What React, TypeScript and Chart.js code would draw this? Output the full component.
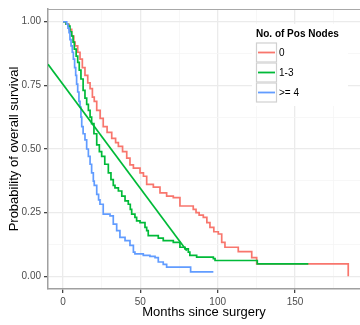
import React, { useEffect, useRef } from "react";
import { Chart, registerables } from "chart.js";

Chart.register(...registerables);

const FONT = "'Liberation Sans', Arial, Helvetica, sans-serif";

const seriesLabels = ["0", "1-3", ">= 4"];
const seriesColors = ["#F8766D", "#00BA38", "#619CFF"];
const legendTitle = "No. of Pos Nodes";
const xTitle = "Months since surgery";
const yTitle = "Probability of overall survival";

// Kaplan-Meier curves: time of each drop and survival after the drop
const redTimes = [0, 2, 4, 5.6, 7, 7.8, 9.5, 11, 12.5, 14.2, 16, 17.5, 19, 20.2, 21.8, 24, 26, 28.5, 31.5, 34, 35.8, 38.5, 41.2, 43.3, 45.5, 49.8, 52, 54.1, 58.4, 62.7, 67, 71.3, 75.6, 84.2, 86, 88, 90.7, 93, 95, 97.5, 100.4, 102.6, 104.7, 113.3, 122, 125.2, 184.4];
const redSurv = [1.0, 0.99, 0.97, 0.944, 0.92, 0.905, 0.88, 0.853, 0.82, 0.789, 0.76, 0.737, 0.704, 0.687, 0.652, 0.62, 0.588, 0.565, 0.542, 0.525, 0.51, 0.49, 0.464, 0.438, 0.425, 0.406, 0.393, 0.361, 0.35, 0.328, 0.315, 0.309, 0.276, 0.263, 0.25, 0.24, 0.231, 0.211, 0.192, 0.175, 0.166, 0.133, 0.114, 0.097, 0.073, 0.049, 0.0];

const greenTimes = [0, 2, 3.4, 4.5, 5.6, 6.5, 7.3, 8.5, 9.5, 10.5, 11.6, 13, 14.2, 15.3, 16.4, 17.5, 18.5, 20, 21.8, 23.5, 25, 27, 29.3, 31, 32.5, 33.6, 35.8, 38, 40.1, 42.2, 43.5, 44.4, 46.5, 47.6, 49.8, 53, 54.1, 55.1, 61.6, 64.8, 71.3, 75.6, 78.9, 81, 82, 86.4, 97.2, 98.3, 125.6, 158.6];
const greenSurv = [1.0, 0.99, 0.983, 0.96, 0.944, 0.92, 0.892, 0.865, 0.84, 0.81, 0.775, 0.73, 0.7, 0.675, 0.652, 0.625, 0.6, 0.56, 0.516, 0.49, 0.471, 0.44, 0.406, 0.38, 0.357, 0.347, 0.335, 0.315, 0.296, 0.283, 0.263, 0.244, 0.231, 0.218, 0.211, 0.192, 0.179, 0.16, 0.15, 0.14, 0.133, 0.114, 0.108, 0.095, 0.082, 0.075, 0.069, 0.062, 0.049, 0.049];

const blueTimes = [0, 2.4, 3.2, 3.9, 4.5, 5.2, 6, 6.7, 7.5, 8.2, 8.8, 9.5, 10.3, 11, 11.6, 12.1, 13, 14.2, 15.3, 16.4, 17.5, 18.5, 19.6, 20.2, 21.8, 23, 23.9, 26, 30.4, 32.5, 34.7, 36.8, 40.1, 43.3, 45.5, 46.5, 51.9, 56.2, 59.5, 61.6, 64.8, 67, 82.5, 97.2];
const blueSurv = [1.0, 0.99, 0.975, 0.957, 0.93, 0.905, 0.88, 0.853, 0.82, 0.789, 0.755, 0.724, 0.687, 0.665, 0.625, 0.588, 0.56, 0.536, 0.5, 0.471, 0.44, 0.406, 0.374, 0.357, 0.322, 0.3, 0.283, 0.244, 0.237, 0.205, 0.179, 0.153, 0.14, 0.121, 0.095, 0.088, 0.082, 0.078, 0.073, 0.056, 0.047, 0.036, 0.017, 0.017];

// straight green line
const lineTimes = [-9.7, 80];
const lineSurv = [0.833, 0.1];

const xTickValues = [0, 25, 50, 75, 100, 125, 150, 175];
const xMajorTicks = [0, 50, 100, 150];
const yTickValues = [0, 0.125, 0.25, 0.375, 0.5, 0.625, 0.75, 0.875, 1.0];
const yMajorTicks = [0, 0.25, 0.5, 0.75, 1.0];

const toPoints = (xs: number[], ys: number[]) => xs.map((x, i) => ({ x, y: ys[i] }));
const isMajor = (list: number[], v: number) => list.some((m) => Math.abs(m - v) < 1e-9);

const panelPlugin = {
  id: "panelTop",
  beforeDatasetsDraw(chart: any) {
    const { ctx, chartArea } = chart;
    ctx.save();
    ctx.strokeStyle = "#A8A8A8";
    ctx.lineWidth = 1;
    ctx.beginPath();
    ctx.moveTo(chartArea.left, chartArea.top + 0.5);
    ctx.lineTo(chartArea.right, chartArea.top + 0.5);
    ctx.stroke();
    ctx.restore();
  },
};

const legendPlugin = {
  id: "ggLegend",
  afterDatasetsDraw(chart: any) {
    const { ctx, chartArea } = chart;
    const x0 = chartArea.right - 108;
    const y0 = chartArea.top + 15;
    ctx.save();
    ctx.fillStyle = "#FFFFFF";
    ctx.fillRect(x0, y0, 96, 82);
    ctx.fillStyle = "#000000";
    ctx.font = `bold 10px ${FONT}`;
    ctx.textBaseline = "middle";
    ctx.textAlign = "left";
    ctx.fillText(legendTitle, x0 + 4, y0 + 10);
    const keyX = x0 + 4;
    const keyW = 21;
    const keyH = 20;
    for (let i = 0; i < seriesLabels.length; i++) {
      const ky = y0 + 18.5 + i * keyH;
      ctx.fillStyle = "#FFFFFF";
      ctx.fillRect(keyX, ky, keyW, keyH);
      ctx.strokeStyle = "#D0D0D0";
      ctx.lineWidth = 1.2;
      ctx.strokeRect(keyX + 0.5, ky + 0.5, keyW - 1, keyH - 1);
      ctx.strokeStyle = seriesColors[i];
      ctx.lineWidth = 1.8;
      ctx.beginPath();
      ctx.moveTo(keyX + 2, ky + keyH / 2);
      ctx.lineTo(keyX + keyW - 2, ky + keyH / 2);
      ctx.stroke();
      ctx.fillStyle = "#000000";
      ctx.font = `10px ${FONT}`;
      ctx.fillText(seriesLabels[i], keyX + keyW + 2, ky + keyH / 2 + 0.5);
    }
    ctx.restore();
  },
};

export default function App() {
  const canvasRef = useRef<HTMLCanvasElement | null>(null);

  useEffect(() => {
    if (!canvasRef.current) return;
    const lineCommon = {
      pointRadius: 0,
      pointHoverRadius: 0,
      borderWidth: 1.7,
      fill: false,
      tension: 0,
    };
    const chart = new Chart(canvasRef.current, {
      type: "line",
      data: {
        datasets: [
          { ...lineCommon, label: seriesLabels[0], data: toPoints(redTimes, redSurv), borderColor: seriesColors[0], stepped: "before", order: 4 },
          { ...lineCommon, label: seriesLabels[1], data: toPoints(greenTimes, greenSurv), borderColor: seriesColors[1], stepped: "before", order: 3 },
          { ...lineCommon, label: seriesLabels[2], data: toPoints(blueTimes, blueSurv), borderColor: seriesColors[2], stepped: "before", order: 2 },
          { ...lineCommon, label: "line", data: toPoints(lineTimes, lineSurv), borderColor: seriesColors[1], order: 1 },
        ],
      },
      options: {
        animation: false,
        responsive: false,
        maintainAspectRatio: false,
        events: [],
        layout: { padding: { top: 6, left: 0, right: 0, bottom: 0 } },
        plugins: { legend: { display: false }, tooltip: { enabled: false } },
        scales: {
          x: {
            type: "linear",
            min: -9.7,
            max: 192,
            afterBuildTicks: (s: any) => {
              s.ticks = xTickValues.map((v) => ({ value: v }));
            },
            afterFit: (s: any) => {
              s.height = 36;
            },
            grid: {
              color: (c: any) => (isMajor(xMajorTicks, c.tick?.value) ? "#EBEBEB" : "#F5F5F5"),
              lineWidth: (c: any) => (isMajor(xMajorTicks, c.tick?.value) ? 1.3 : 0.8),
              tickColor: (c: any) => (isMajor(xMajorTicks, c.tick?.value) ? "#444444" : "rgba(0,0,0,0)"),
              tickLength: 4,
              drawTicks: true,
            },
            border: { display: true, color: "#A0A0A0", width: 1.5 },
            ticks: {
              autoSkip: false,
              maxRotation: 0,
              padding: 3,
              color: "#4D4D4D",
              font: { family: FONT, size: 10 },
              callback: (v: any) => (isMajor(xMajorTicks, Number(v)) ? String(v) : ""),
            },
            title: {
              display: true,
              text: xTitle,
              color: "#000000",
              font: { family: FONT, size: 13 },
              padding: { top: 0, bottom: 5 },
            },
          },
          y: {
            type: "linear",
            min: -0.05,
            max: 1.05,
            afterBuildTicks: (s: any) => {
              s.ticks = yTickValues.map((v) => ({ value: v }));
            },
            afterFit: (s: any) => {
              s.width = 48;
            },
            grid: {
              color: (c: any) => (isMajor(yMajorTicks, c.tick?.value) ? "#EBEBEB" : "#F5F5F5"),
              lineWidth: (c: any) => (isMajor(yMajorTicks, c.tick?.value) ? 1.3 : 0.8),
              tickColor: (c: any) => (isMajor(yMajorTicks, c.tick?.value) ? "#444444" : "rgba(0,0,0,0)"),
              tickLength: 4,
              drawTicks: true,
            },
            border: { display: true, color: "#A0A0A0", width: 1.5 },
            ticks: {
              autoSkip: false,
              padding: 3,
              color: "#4D4D4D",
              font: { family: FONT, size: 10 },
              callback: (v: any) => (isMajor(yMajorTicks, Number(v)) ? Number(v).toFixed(2) : ""),
            },
            title: {
              display: true,
              text: yTitle,
              color: "#000000",
              font: { family: FONT, size: 13 },
              padding: { top: 7, bottom: 0 },
            },
          },
        },
      },
      plugins: [panelPlugin, legendPlugin],
    } as any);
    return () => chart.destroy();
  }, []);

  return (
    <div style={{ position: "fixed", left: 0, top: 0, width: 360, height: 325, background: "#FFFFFF" }}>
      <canvas ref={canvasRef} width={360} height={325} style={{ display: "block", width: 360, height: 325 }} />
    </div>
  );
}
